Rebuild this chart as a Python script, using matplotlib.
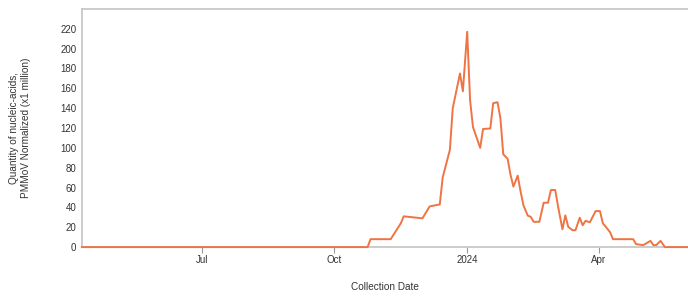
import datetime as dt
import matplotlib
matplotlib.use("Agg")
from matplotlib import pyplot as plt
from matplotlib import dates as mdates

plt.rcParams['font.family'] = ['Liberation Sans', 'DejaVu Sans']

# sample dates and normalized values (x1 million)
dates = ["2023-04-09", "2023-10-24", "2023-10-26", "2023-11-09", "2023-11-16",
         "2023-11-18", "2023-12-01", "2023-12-06", "2023-12-13", "2023-12-15",
         "2023-12-20", "2023-12-22", "2023-12-27", "2023-12-29", "2024-01-01",
         "2024-01-03", "2024-01-05", "2024-01-10", "2024-01-12", "2024-01-17",
         "2024-01-19", "2024-01-22", "2024-01-24", "2024-01-26", "2024-01-29",
         "2024-01-31", "2024-02-02", "2024-02-05", "2024-02-07", "2024-02-09",
         "2024-02-12", "2024-02-14", "2024-02-16", "2024-02-20", "2024-02-23",
         "2024-02-26", "2024-02-28", "2024-03-02", "2024-03-04", "2024-03-07",
         "2024-03-09", "2024-03-11", "2024-03-14", "2024-03-16", "2024-03-19",
         "2024-03-21", "2024-03-23", "2024-03-26", "2024-03-30", "2024-04-02",
         "2024-04-04", "2024-04-06", "2024-04-09", "2024-04-11", "2024-04-25",
         "2024-04-27", "2024-05-02", "2024-05-07", "2024-05-09", "2024-05-11",
         "2024-05-14", "2024-05-17", "2024-06-02"]
values = [0, 0, 8, 8, 24,
          31, 29, 41, 43, 70,
          98, 140, 175, 157, 217,
          148, 121, 100, 119, 119.5,
          145, 146, 130, 93.5, 89,
          73, 61, 72, 56, 42,
          31.6, 30.6, 25.5, 25.5, 44.7,
          44.7, 57.5, 57.5, 40.7, 18,
          32, 20.5, 17, 17, 29.6,
          22, 26.5, 25, 36.3, 36.3,
          24, 20.5, 15, 8, 8,
          3, 2, 6.3, 2, 2,
          6.3, 0, 0]

x = [dt.datetime.strptime(d, "%Y-%m-%d") for d in dates]

fig = plt.figure(figsize=(6.88, 2.97), dpi=100)
ax = fig.add_axes([0.119, 0.168, 0.881, 0.802])

ax.plot(x, values, color="#ef7443", linewidth=1.4, zorder=3, clip_on=False)

ax.set_xlim(x[0], x[-1])
ax.set_ylim(0, 240)
ax.set_yticks(range(0, 221, 20))

def fmt(d, pos=None):
    d = mdates.num2date(d)
    return str(d.year) if d.month == 1 else d.strftime("%b")

ax.xaxis.set_major_locator(mdates.MonthLocator(bymonth=[1, 4, 7, 10]))
ax.xaxis.set_major_formatter(plt.FuncFormatter(fmt))

for s in ["left", "top", "bottom"]:
    ax.spines[s].set_color("#c4c4c4")
    ax.spines[s].set_linewidth(1.2)
ax.spines["right"].set_visible(False)

ax.tick_params(axis="y", length=0, labelsize=7, labelcolor="#333333", pad=4)
ax.tick_params(axis="x", length=4, color="#999999", labelsize=7, labelcolor="#333333", pad=2)

ax.set_xlabel("Collection Date", fontsize=7.2, color="#333333", labelpad=12)
ax.set_ylabel("Quantity of nucleic-acids,\nPMMoV Normalized (x1 million)",
              fontsize=7.2, color="#333333", labelpad=21)

fig.savefig("out.png", dpi=100)
